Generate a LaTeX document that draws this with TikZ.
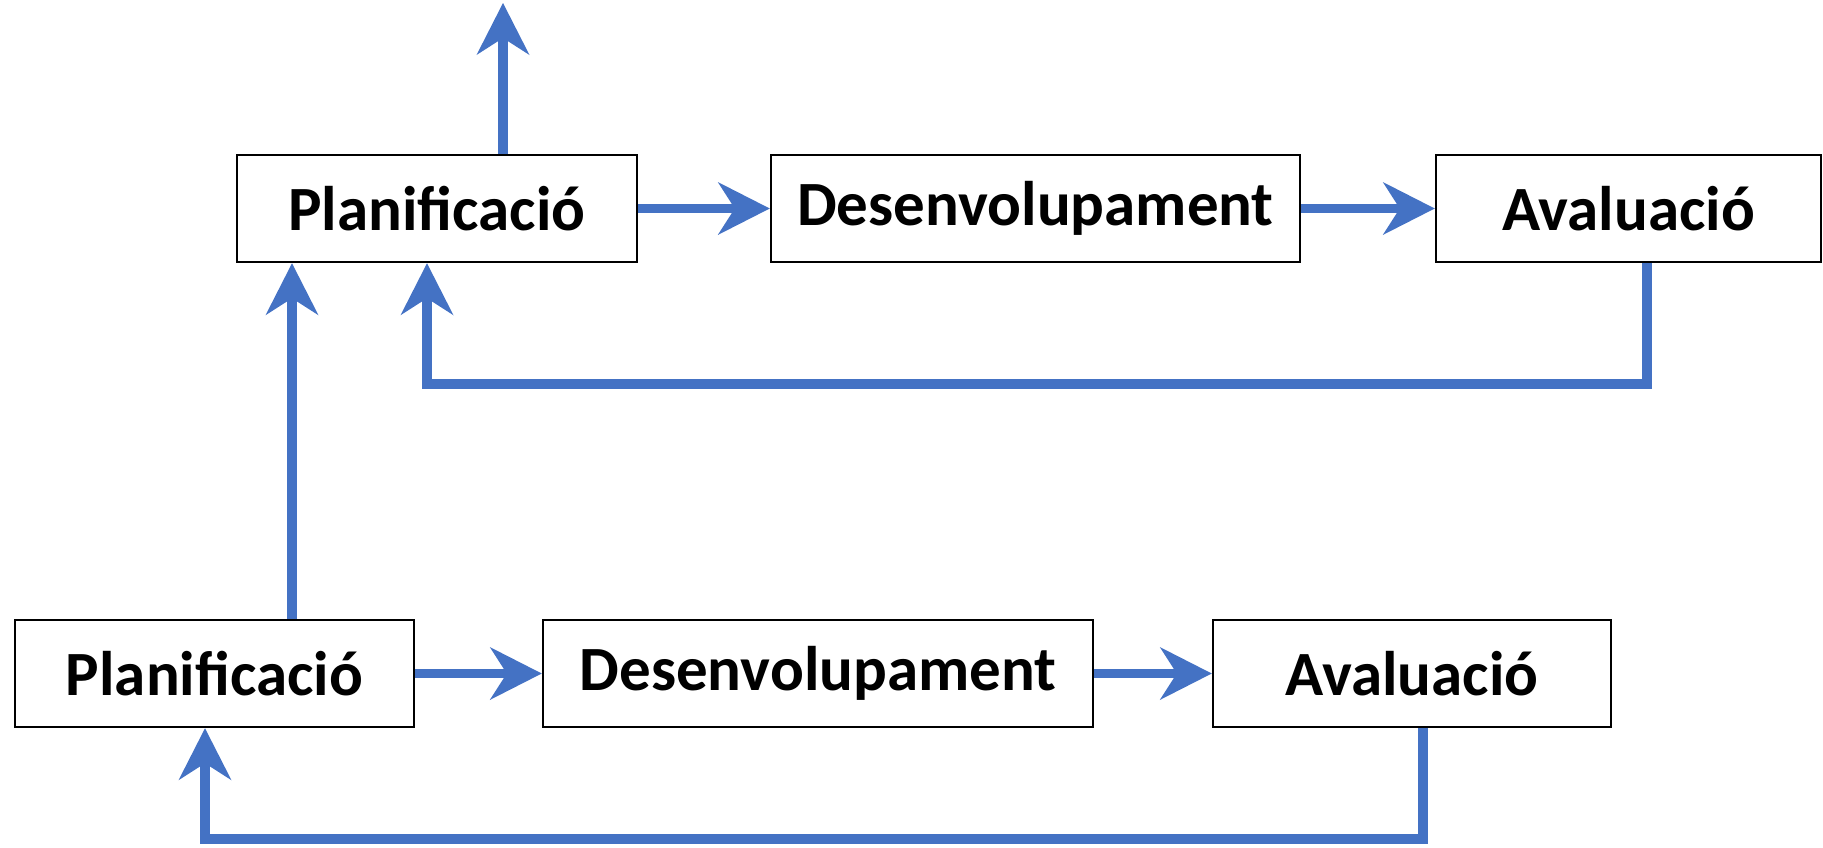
\documentclass[tikz,border=0pt]{standalone}
\usepackage{fontspec}
\setmainfont{Carlito}
\usetikzlibrary{arrows.meta}
\definecolor{flow}{HTML}{4472C4}
\tikzset{
  stage/.style={draw=black, line width=2.5pt, fill=white, minimum height=107pt,
    inner sep=0pt, font=\fontsize{63}{70}\selectfont\bfseries},
  link/.style={draw=flow, line width=9.5pt, line join=miter,
    -{Stealth[length=52pt, width=53pt, inset=17pt, line width=0pt]}},
}
\begin{document}
\begin{tikzpicture}[x=1pt, y=-1pt]
  \useasboundingbox (0,0) rectangle (1823,847);

  % upper cycle
  \node[stage, minimum width=400pt] (p1) at (437,208.5) {Planificació};
  \node[stage, minimum width=529pt] (d1) at (1035.5,208.5) {Desenvolupament};
  \node[stage, minimum width=385pt] (a1) at (1628.5,208.5) {Avaluació};

  % lower cycle
  \node[stage, minimum width=399pt] (p2) at (214.5,673.5) {Planificació};
  \node[stage, minimum width=550pt] (d2) at (818,673.5) {Desenvolupament};
  \node[stage, minimum width=398pt] (a2) at (1412,673.5) {Avaluació};

  % routing points
  \coordinate (out) at (503,3);
  \coordinate (up) at (292,0);
  \coordinate (fb1r) at (1647,384);
  \coordinate (fb1l) at (427,384);
  \coordinate (fb2r) at (1423,839);
  \coordinate (fb2l) at (205,839);

  % forward flow
  \draw[link] (p1) -- (d1);
  \draw[link] (d1) -- (a1);
  \draw[link] (p2) -- (d2);
  \draw[link] (d2) -- (a2);

  % continuation upwards
  \draw[link] (out |- p1.north) -- (out);
  \draw[link] (p2.north -| up) -- (p1.south -| up);

  % feedback loops
  \draw[link] (a1.south -| fb1r) -- (fb1r) -- (fb1l) -- (p1.south -| fb1l);
  \draw[link] (a2.south -| fb2r) -- (fb2r) -- (fb2l) -- (p2.south -| fb2l);
\end{tikzpicture}
\end{document}
